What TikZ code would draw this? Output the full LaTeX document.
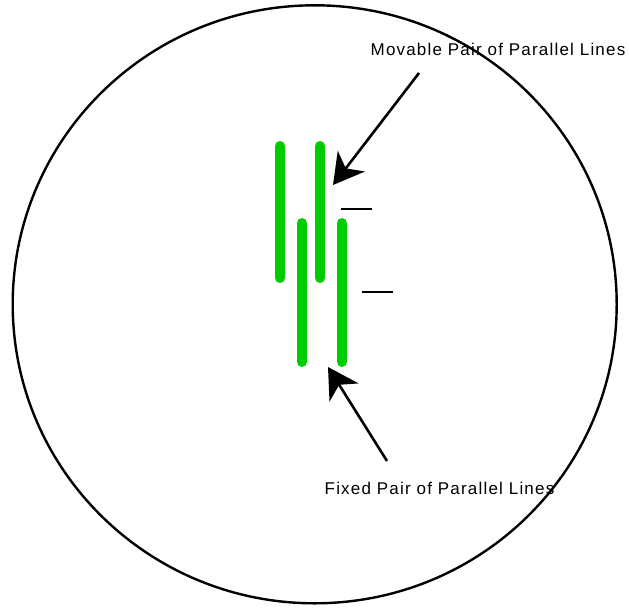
\documentclass[tikz,border=0pt]{standalone}
\usepackage{fontspec}
\setmainfont{Liberation Sans}[LetterSpace=7]
\usetikzlibrary{arrows.meta}

\definecolor{railgreen}{RGB}{0,204,0}

\begin{document}
\begin{tikzpicture}[
      x=1pt, y=-1pt,
      rail/.style={line width=10pt, line cap=round, draw=railgreen},
      tick/.style={line width=2.2pt},
      pointer/.style={line width=2.6pt, -{Stealth[length=30pt, width=34pt, inset=9pt]}},
      caption/.style={font=\fontsize{17}{20}\selectfont, inner sep=0pt}
  ]
    \useasboundingbox (0,0) rectangle (629,608);
    \draw[line width=2.4pt] (314.7,304.3) ellipse [x radius=302, y radius=299];

    % movable pair
    \draw[rail] (280,146) coordinate (mova) -- (280,278);
    \draw[rail] (320,146) coordinate (movb) -- (320,278);
    % fixed pair
    \draw[rail] (301.7,223) coordinate (fixa) -- (301.7,362);
    \draw[rail] (341.7,223) coordinate (fixb) -- (341.7,362);

    \draw[tick] (341,209.3) coordinate (ticka) -- (372,209.3);
    \draw[tick] (362,292.3) coordinate (tickb) -- (393,292.3);

    \node[caption] (movlbl) at (498,49) {Movable Pair of Parallel Lines};
    \node[caption] (fixlbl) at (439.5,488) {Fixed Pair of Parallel Lines};

    \coordinate (movtail) at (419,73);
    \coordinate (movtip) at (333,185);
    \coordinate (fixtail) at (387,461);
    \coordinate (fixtip) at (328,367);

    \draw[pointer] (movtail) -- (movtip);
    \draw[pointer] (fixtail) -- (fixtip);
  \end{tikzpicture}
\end{document}
